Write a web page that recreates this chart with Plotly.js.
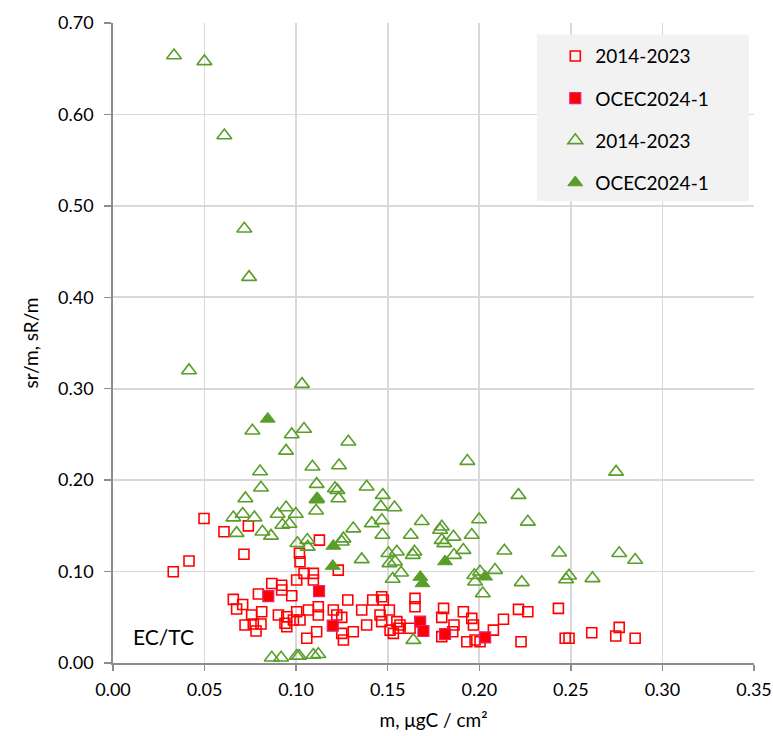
<!DOCTYPE html>
<html><head><meta charset="utf-8">
<script src="https://cdn.plot.ly/plotly-3.0.1.min.js"></script>
<style>body{margin:0;background:#fff}#chart{width:773px;height:736px}</style>
</head><body><div id="chart"></div>
<script>
// Red open squares: 2014-2023 (EC/TC)
const sqHistX = [0.0329,0.0415,0.0497,0.0606,0.0739,0.0715,0.0657,0.0708,0.0675,0.0757,0.0794,0.0812,0.0721,0.0766,0.0781,0.0808,0.0867,0.0921,0.0921,0.0976,0.0903,0.0949,0.0939,0.0949,0.0985,0.1003,0.1003,0.1021,0.1043,0.1094,0.1094,0.1018,0.1021,0.1067,0.1058,0.1127,0.123,0.1121,0.1121,0.1203,0.1222,0.1282,0.1249,0.1112,0.1249,0.1258,0.1312,0.1358,0.1385,0.1418,0.1467,0.1476,0.1458,0.1467,0.1509,0.1513,0.1531,0.155,0.1567,0.1558,0.1622,0.1649,0.1649,0.1795,0.1805,0.1795,0.1862,0.1855,0.1913,0.1932,0.1959,0.1968,0.1977,0.2004,0.2077,0.2132,0.2214,0.2265,0.2228,0.2432,0.2469,0.249,0.2614,0.2745,0.2764,0.2851];
const sqHistY = [0.0998,0.1115,0.158,0.1435,0.150,0.119,0.0696,0.064,0.059,0.0525,0.0754,0.056,0.0415,0.0426,0.035,0.0426,0.087,0.085,0.0798,0.0736,0.0525,0.0506,0.0434,0.0397,0.047,0.056,0.0907,0.047,0.098,0.098,0.0907,0.12,0.1107,0.058,0.027,0.1344,0.1016,0.0616,0.0525,0.058,0.0525,0.0689,0.0499,0.0342,0.0324,0.0251,0.0342,0.058,0.0415,0.0689,0.0725,0.0689,0.0525,0.0452,0.058,0.036,0.0324,0.0452,0.0415,0.038,0.038,0.0707,0.0616,0.0499,0.0597,0.0288,0.0415,0.0342,0.056,0.0233,0.0488,0.0415,0.0251,0.0233,0.036,0.0478,0.0587,0.0561,0.0233,0.0598,0.027,0.027,0.0331,0.0295,0.039,0.027];
// Red filled squares: OCEC2024-1
const sqNewX = [0.0848,0.1125,0.1200,0.1677,0.1695,0.1813,0.2032];
const sqNewY = [0.0732,0.0787,0.0408,0.0452,0.0350,0.0317,0.0280];
// Green open triangles: 2014-2023
const triHistX = [0.0333,0.0499,0.0608,0.0717,0.0743,0.0415,0.1032,0.0761,0.1043,0.0976,0.0945,0.1089,0.0803,0.0808,0.1112,0.1112,0.0723,0.0708,0.0657,0.0772,0.0899,0.0945,0.0998,0.0963,0.1109,0.0675,0.0816,0.0863,0.0925,0.1007,0.1061,0.1063,0.0867,0.0918,0.1003,0.1016,0.1094,0.1121,0.164,0.1285,0.1234,0.1935,0.1212,0.1225,0.1385,0.1231,0.1473,0.1462,0.1537,0.1468,0.1413,0.1686,0.1999,0.2214,0.1795,0.1312,0.1258,0.1249,0.1471,0.1358,0.1504,0.155,0.154,0.151,0.1527,0.1573,0.1626,0.1637,0.1646,0.1786,0.1795,0.1809,0.1859,0.1862,0.1913,0.1959,0.1973,0.2004,0.1977,0.2019,0.2086,0.2137,0.2747,0.2265,0.2436,0.2764,0.2851,0.2232,0.249,0.2474,0.2618];
const triHistY = [0.6645,0.658,0.577,0.475,0.422,0.320,0.305,0.254,0.256,0.250,0.232,0.2146,0.2095,0.1916,0.1956,0.179,0.180,0.163,0.159,0.159,0.163,0.170,0.163,0.152,0.1665,0.142,0.1435,0.139,0.151,0.131,0.1344,0.127,0.0058,0.0058,0.0077,0.0077,0.0087,0.0095,0.025,0.242,0.216,0.2208,0.191,0.189,0.1927,0.180,0.1836,0.171,0.170,0.156,0.1527,0.155,0.157,0.1836,0.149,0.147,0.136,0.1326,0.140,0.1133,0.120,0.1216,0.1107,0.109,0.0918,0.0987,0.140,0.118,0.1216,0.1454,0.1344,0.1308,0.138,0.118,0.1235,0.140,0.096,0.0998,0.0889,0.076,0.1016,0.1227,0.209,0.1544,0.1206,0.120,0.1126,0.0882,0.0954,0.0914,0.0926];
// Green filled triangles: OCEC2024-1
const triNewX = [0.0845,0.1116,0.1203,0.1200,0.1678,0.1690,0.1813,0.2032];
const triNewY = [0.267,0.180,0.128,0.106,0.094,0.087,0.111,0.0943];
const legendNames = ['2014-2023','OCEC2024-1','2014-2023','OCEC2024-1'];

const RED = '#FF0000', PINK = '#E8207E', GREEN = '#5A9E2A';
const FONT = 'Lato, "Liberation Sans", sans-serif';

const traces = [
  {x: sqHistX, y: sqHistY, name: legendNames[0], legendgroup:'a', type:'scatter', mode:'markers',
   marker:{symbol:'square-open', size:10, color:RED, line:{width:1.6, color:RED}}},
  {x: sqNewX, y: sqNewY, name: legendNames[1], legendgroup:'b', type:'scatter', mode:'markers',
   marker:{symbol:'square', size:11, color:RED, line:{width:1.2, color:PINK}}},
  {x: triHistX, y: triHistY, name: legendNames[2], legendgroup:'c', type:'scatter', mode:'markers',
   marker:{symbol:'triangle-up-open', size:13, color:GREEN, line:{width:1.6, color:GREEN}}},
  {x: triNewX, y: triNewY, name: legendNames[3], legendgroup:'d', type:'scatter', mode:'markers',
   marker:{symbol:'triangle-up', size:13, color:GREEN, line:{width:1, color:GREEN}}}
];

const layout = {
  width: 773, height: 736,
  margin: {l:113, r:19, t:23, b:73},
  paper_bgcolor:'#ffffff', plot_bgcolor:'#ffffff',
  font: {family: FONT, size: 18, color:'#000'},
  showlegend: true,
  legend: {x:0.69, y:0.978, xanchor:'left', yanchor:'top', bgcolor:'rgba(0,0,0,0)',
           font:{family:FONT, size:19, color:'#000'}, tracegroupgap:14.5, itemsizing:'trace'},
  xaxis: {range:[0,0.35], dtick:0.05, tick0:0, tickformat:'.2f', showgrid:true, gridcolor:'#D9D9D9', gridwidth:1.8,
          zeroline:false, showline:true, linecolor:'#8C8C8C', linewidth:1.8, ticks:'outside', ticklen:6, tickcolor:'#8C8C8C', tickwidth:1.5,
          ticklabelstandoff:4,
          tickfont:{family:FONT, size:18}, title:{text:'m, μgC / cm²', font:{family:FONT, size:19}, standoff:14}},
  yaxis: {range:[0,0.7], dtick:0.1, tick0:0, tickformat:'.2f', showgrid:true, gridcolor:'#D9D9D9', gridwidth:1.8,
          zeroline:false, showline:true, linecolor:'#8C8C8C', linewidth:1.8, ticks:'outside', ticklen:7, tickcolor:'#8C8C8C', tickwidth:1.5,
          ticklabelstandoff:7,
          tickfont:{family:FONT, size:18}, title:{text:'sr/m, sR/m', font:{family:FONT, size:19}, standoff:14}},
  shapes: [{type:'rect', xref:'paper', yref:'paper', x0:0.6615, x1:0.992, y0:0.7215, y1:0.982,
            fillcolor:'#F2F2F2', line:{width:0}, layer:'above'}],
  annotations: [{text:'EC/TC', xref:'x', yref:'y', x:0.0098, y:0.0295, xanchor:'left', yanchor:'middle',
                 showarrow:false, font:{family:FONT, size:21, color:'#000'}}]
};

Plotly.newPlot('chart', traces, layout, {displayModeBar:false, staticPlot:true});
</script>
</body></html>
